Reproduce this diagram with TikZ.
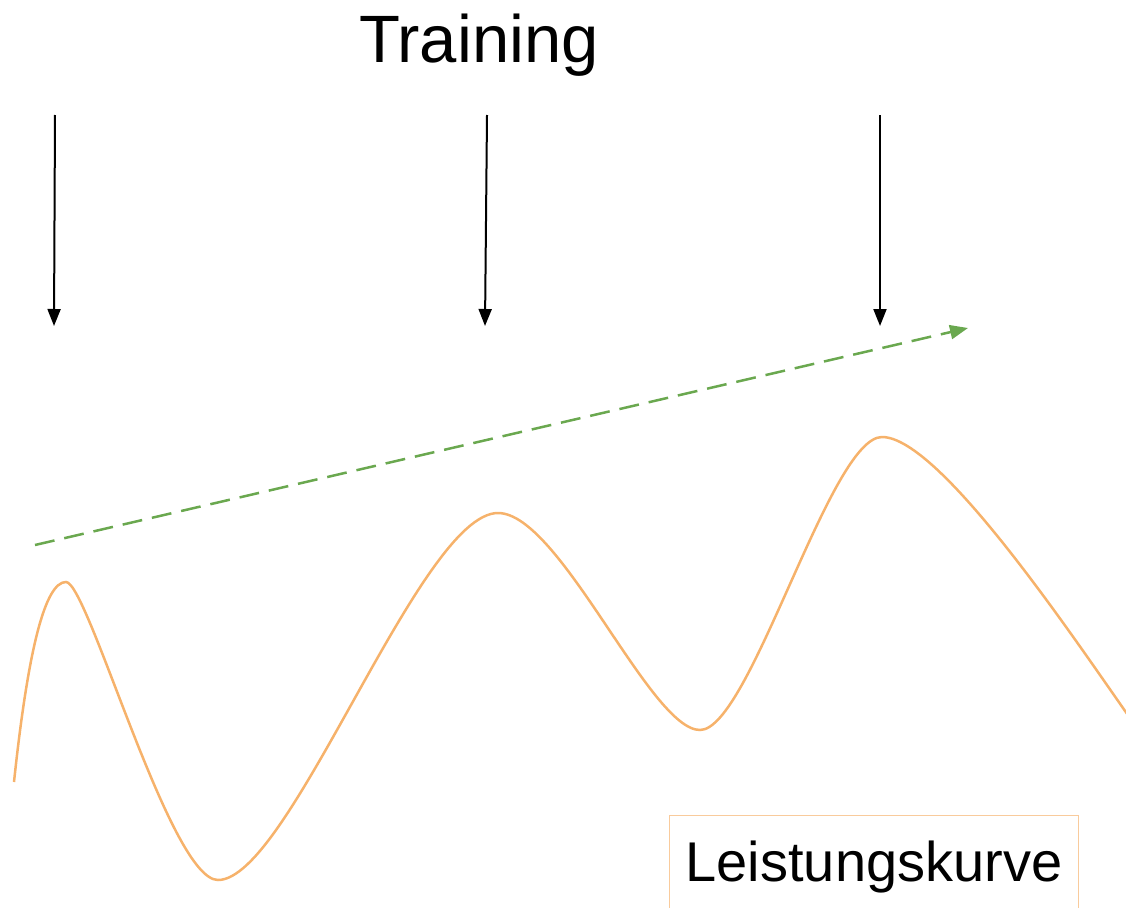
\documentclass[tikz,border=0pt]{standalone}
\usepackage{fontspec}
\setmainfont{Liberation Sans}
\usetikzlibrary{arrows.meta}
\definecolor{curveor}{HTML}{F6B26B}
\definecolor{boxor}{HTML}{F9CB9C}
\definecolor{trendgreen}{HTML}{6AA84F}
\tikzset{
  trainarrow/.style={draw=black, line width=2pt, -{Triangle[length=17pt,width=13pt]}},
  trendarrow/.style={draw=trendgreen, line width=2.5pt, dash pattern=on 20pt off 10pt, -{Triangle[length=18pt,width=14pt]}},
  perfcurve/.style={draw=curveor, line width=2.5pt},
  labelbox/.style={draw=boxor, line width=1pt, inner sep=0pt, minimum width=409pt, minimum height=104pt, anchor=north west, font=\fontsize{56}{60}\selectfont},
  titletext/.style={inner sep=0pt, font=\fontsize{67}{72}\selectfont}
}
\begin{document}
\begin{tikzpicture}[x=1pt,y=-1pt]
\useasboundingbox (0,0) rectangle (1126,907);
\clip (0,0) rectangle (1126,907);
\node[titletext] (title) at (479,45) {Training};
% training arrows
\coordinate (a1s) at (55,115);  \coordinate (a1e) at (54,326);
\coordinate (a2s) at (487,115); \coordinate (a2e) at (485,326);
\coordinate (a3s) at (880,115); \coordinate (a3e) at (880,326);
\draw[trainarrow] (a1s) -- (a1e);
\draw[trainarrow] (a2s) -- (a2e);
\draw[trainarrow] (a3s) -- (a3e);
% trend
\coordinate (ts) at (35,545); \coordinate (te) at (968,328);
\draw[trendarrow] (ts) -- (te);
% performance curve
\draw[perfcurve] (14,782) .. controls (28,650) and (45,582) .. (66,582)
  .. controls (88,582) and (170,880) .. (218,880)
  .. controls (290,880) and (420,513) .. (498,513)
  .. controls (560,513) and (650,730) .. (700,730)
  .. controls (750,730) and (830,437) .. (882,437)
  .. controls (940,437) and (1075,640) .. (1130,718);
\node[labelbox] (label) at (669,815) {Leistungskurve};
\end{tikzpicture}
\end{document}
